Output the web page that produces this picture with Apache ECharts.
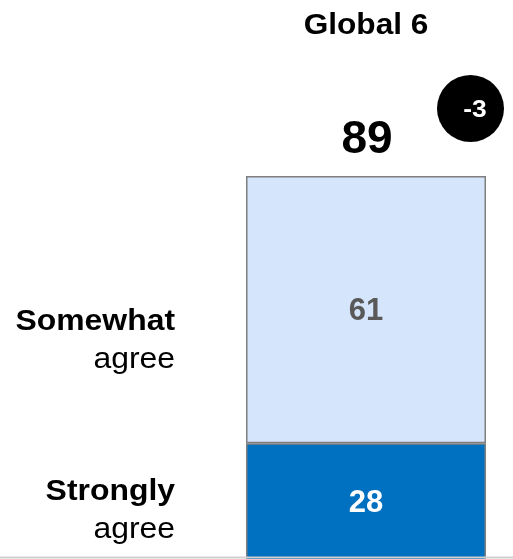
<!DOCTYPE html>
<html>
<head>
<meta charset="utf-8">
<script src="https://cdn.jsdelivr.net/npm/echarts@6/dist/echarts.min.js"></script>
<style>
  html, body { margin: 0; padding: 0; background: #ffffff; }
  #chart { width: 513px; height: 559px; }
</style>
</head>
<body>
<div id="chart"></div>
<script>
// Survey result for one market group: share agreeing, split by strength
const categories = ['Global 6'];
const stronglyAgree = [28];
const somewhatAgree = [61];
const totalAgree = [89];
const changeVsPrior = ['-3'];
const segmentLabels = {
  strongly: ['Strongly', 'agree'],
  somewhat: ['Somewhat', 'agree']
};

const FONT = '"Liberation Sans", Arial, sans-serif';
const chart = echarts.init(document.getElementById('chart'), null, { renderer: 'canvas' });

chart.setOption({
  animation: false,
  grid: { left: 246, right: 27, top: 176, height: 390, outerBoundsMode: 'none', containLabel: false },
  xAxis: { type: 'category', data: categories, show: false },
  yAxis: { type: 'value', min: 0, max: totalAgree[0], show: false },
  series: [
    {
      name: 'Strongly agree',
      type: 'bar',
      stack: 'agree',
      barWidth: 240,
      data: stronglyAgree,
      itemStyle: { color: '#0070C0', borderColor: '#7f7f7f', borderWidth: 1.5 },
      label: { show: true, position: 'inside', color: '#ffffff', fontFamily: FONT, fontWeight: 'bold', fontSize: 31, offset: [0, -1] }
    },
    {
      name: 'Somewhat agree',
      type: 'bar',
      stack: 'agree',
      barWidth: 240,
      data: somewhatAgree,
      itemStyle: { color: '#D5E5FB', borderColor: '#7f7f7f', borderWidth: 1.5 },
      label: { show: true, position: 'inside', color: '#595959', fontFamily: FONT, fontWeight: 'bold', fontSize: 31, offset: [0, 2] }
    }
  ]
});

// Annotations placed from the chart's own scale
const toPx = (v) => chart.convertToPixel({ xAxisIndex: 0, yAxisIndex: 0 }, [0, v]);
const barTop = toPx(totalAgree[0]);
const barSplit = toPx(stronglyAgree[0]);
const cx = barTop[0];
const labelRight = 175;

// wide text: Arial-style glyphs stretched a little horizontally
function wideText(text, x, y, font, fill, align, sx) {
  return { type: 'text', x: x, y: y, scaleX: sx, originX: 0, originY: 0,
    style: { text: text, x: 0, y: 0, align: align, verticalAlign: 'middle', fill: fill, font: font } };
}

function segLabel(lines, yCenter) {
  return [
    wideText(lines[0], labelRight, yCenter - 19, 'bold 29px ' + FONT, '#000', 'right', 1.1),
    wideText(lines[1], labelRight, yCenter + 19, '29px ' + FONT, '#000', 'right', 1.1)
  ];
}

chart.setOption({
  graphic: [
    wideText(categories[0], cx, 26, 'bold 29px ' + FONT, '#000', 'center', 1.09),
    wideText(String(totalAgree[0]), cx + 1, barTop[1] - 36, 'bold 46px ' + FONT, '#000', 'center', 1.0),
    { type: 'circle', shape: { cx: cx + 104.5, cy: barTop[1] - 67.5, r: 33.5 }, style: { fill: '#000' } },
    wideText(changeVsPrior[0], cx + 109, barTop[1] - 66, 'bold 24px ' + FONT, '#fff', 'center', 1.1),
    ...segLabel(segmentLabels.somewhat, (barTop[1] + barSplit[1]) / 2 + 31),
    ...segLabel(segmentLabels.strongly, barSplit[1] + 67.5),
    { type: 'line', z: 100, shape: { x1: 0, y1: 557.5, x2: 513, y2: 557.5 }, style: { stroke: '#d0d0d0', lineWidth: 2 } }
  ]
});
</script>
</body>
</html>
